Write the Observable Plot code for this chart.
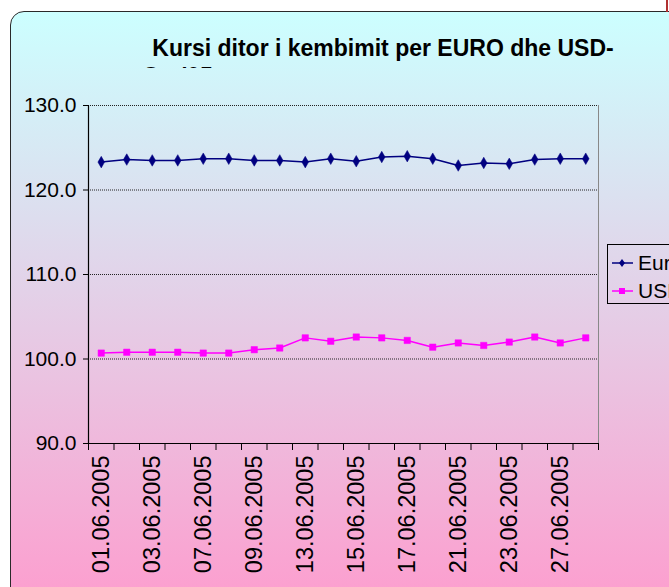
<!DOCTYPE html>
<html>
<head>
<meta charset="utf-8">
<script src="https://cdn.jsdelivr.net/npm/d3@7"></script>
<script src="https://cdn.jsdelivr.net/npm/@observablehq/plot@0.6"></script>
<style>
  html, body { margin: 0; padding: 0; background: #fff; overflow: hidden; }
  #page { position: relative; width: 669px; height: 587px; overflow: hidden; font-family: Arial, "Liberation Sans", sans-serif; }
  #frame { position: absolute; left: 10px; top: 11px; width: 720px; height: 620px;
           border: 1.5px solid #2a2a2a; border-top-left-radius: 14px;
           background: linear-gradient(to bottom, #ccffff 0%, #ff99cc 100%); }
  #redline { position: absolute; left: 666px; top: 0; width: 2px; height: 12px; background: #b03030; }
  #title1 { position: absolute; left: 0; width: 766px; top: 35px; text-align: center; font-weight: bold; font-size: 23px; line-height: 27px; white-space: nowrap; }
  #title2wrap { position: absolute; left: 142px; top: 60px; height: 8px; width: 200px; overflow: hidden; }
  #title2 { position: absolute; left: 0; top: 3px; font-weight: bold; font-size: 23px; line-height: 27px; white-space: nowrap; }
  #chart { position: absolute; left: 0; top: 0; }
  #legend { position: absolute; left: 607px; top: 244px; width: 90px; height: 58px; border: 1px solid #000; }
  .lrow { position: absolute; left: 4px; height: 24px; display: flex; align-items: center; font-size: 21px; }
  .lrow svg { margin-right: 5px; }
</style>
</head>
<body>
<div id="page">
  <div id="frame"></div>
  <div id="redline"></div>
  <div id="title1">Kursi ditor i kembimit per EURO dhe USD-</div>
  <div id="title2wrap"><div id="title2">Qer'05</div></div>
  <div id="chart"></div>
  <div id="legend"></div>
</div>
<script>
// ---- data ----
const dates = ["01.06.2005","02.06.2005","03.06.2005","06.06.2005","07.06.2005","08.06.2005","09.06.2005","10.06.2005","13.06.2005","14.06.2005",
               "15.06.2005","16.06.2005","17.06.2005","20.06.2005","21.06.2005","22.06.2005","23.06.2005","24.06.2005","27.06.2005","28.06.2005"];
const euro = [123.3, 123.6, 123.5, 123.5, 123.7, 123.7, 123.5, 123.5, 123.3, 123.7,
              123.4, 123.9, 124.0, 123.7, 122.9, 123.2, 123.1, 123.6, 123.7, 123.7];
const usd  = [100.7, 100.8, 100.8, 100.8, 100.7, 100.7, 101.1, 101.3, 102.5, 102.1,
              102.6, 102.5, 102.2, 101.4, 101.9, 101.6, 102.0, 102.6, 101.9, 102.5];
const seriesNames = ["Euro", "USD"];
const yTicks = [90, 100, 110, 120, 130];

const euroData = euro.map((v, i) => ({i, v}));
const usdData = usd.map((v, i) => ({i, v}));
const n = dates.length;
const bounds = d3.range(n + 1).map(k => k - 0.5);
const labelIdx = d3.range(0, n, 2);

const EURO_C = "#000080", USD_C = "#ff00ff";

const chart = Plot.plot({
  width: 669, height: 587,
  marginLeft: 88, marginRight: 71, marginTop: 105, marginBottom: 144,
  style: {background: "transparent", fontFamily: "Arial, 'Liberation Sans', sans-serif", color: "#000", overflow: "visible"},
  x: {type: "linear", domain: [-0.5, n - 0.5]},
  y: {type: "linear", domain: [90, 130]},
  marks: [
    Plot.ruleY(yTicks.slice(1), {stroke: "#222", strokeDasharray: "1,1", strokeWidth: 1}),
    Plot.ruleX([n - 0.5], {stroke: "#888", strokeWidth: 1}),
    Plot.axisY({ticks: yTicks, tickFormat: d => d.toFixed(1), tickSize: 5, tickPadding: 7, fontSize: 21, label: null, stroke: "#000"}),
    Plot.axisX({ticks: bounds, tickFormat: () => "", tickSize: 7, label: null, stroke: "#000"}),
    Plot.axisX({ticks: labelIdx, tickFormat: i => dates[i], tickSize: 0, tickPadding: 12, tickRotate: -90, fontSize: 23.5, label: null}),
    Plot.ruleX([-0.5], {stroke: "#000", strokeWidth: 1.2}),
    Plot.ruleY([90], {stroke: "#000", strokeWidth: 1.2}),
    Plot.line(euroData, {x: "i", y: "v", stroke: EURO_C, strokeWidth: 1.5}),
    Plot.dot(euroData, {x: "i", y: "v", symbol: "diamond", r: 3.5, fill: EURO_C, stroke: EURO_C, strokeWidth: 0.5}),
    Plot.line(usdData, {x: "i", y: "v", stroke: USD_C, strokeWidth: 1.5}),
    Plot.dot(usdData, {x: "i", y: "v", symbol: "square", r: 3.6, fill: USD_C, stroke: USD_C, strokeWidth: 0.5})
  ]
});
document.getElementById("chart").appendChild(chart);

// legend
const legend = document.getElementById("legend");
const colors = [EURO_C, USD_C];
seriesNames.forEach((name, k) => {
  const row = document.createElement("div");
  row.className = "lrow";
  row.style.top = (6 + k * 28) + "px";
  const marker = k === 0
    ? `<polygon points="10,8 13,12 10,16 7,12" fill="${colors[k]}"/>`
    : `<rect x="7" y="9" width="6" height="6" fill="${colors[k]}"/>`;
  row.innerHTML = `<svg width="21" height="24"><line x1="0" y1="12" x2="21" y2="12" stroke="${colors[k]}" stroke-width="1.5"/>${marker}</svg><span>${name}</span>`;
  legend.appendChild(row);
});
</script>
</body>
</html>
